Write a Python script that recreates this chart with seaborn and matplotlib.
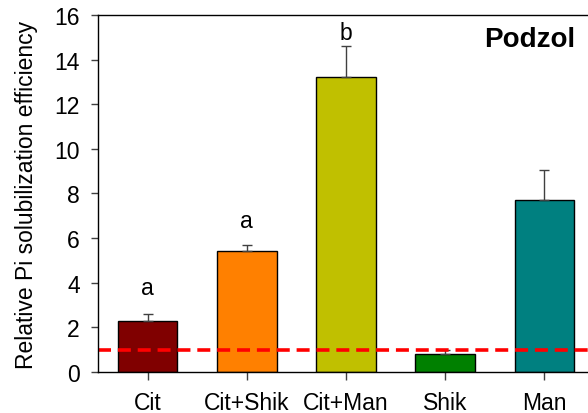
import pandas as pd
import seaborn as sns
import matplotlib.pyplot as plt

treatments = ['Cit', 'Cit+Shik', 'Cit+Man', 'Shik', 'Man']
efficiency = [2.3, 5.41, 13.23, 0.82, 7.73]
std_err = [0.31, 0.3, 1.36, 0.15, 1.31]
letters = ['a', 'a', 'b', '', '']
letter_y = [3.8, 6.8, 15.2, None, None]
bar_colors = ['#800000', '#FF8000', '#C0C000', '#008000', '#008080']

df = pd.DataFrame({'Treatment': treatments, 'Efficiency': efficiency})

sns.set_style('white')
plt.rcParams['font.family'] = ['Liberation Sans', 'DejaVu Sans']
plt.rcParams['text.color'] = 'black'
plt.rcParams['axes.labelcolor'] = 'black'
plt.rcParams['xtick.color'] = 'black'
plt.rcParams['ytick.color'] = 'black'

fig = plt.figure(figsize=(5.88, 4.14), dpi=100)
ax = fig.add_axes([0.1667, 0.099, 0.8333, 0.8624])

sns.barplot(data=df, x='Treatment', y='Efficiency', hue='Treatment',
            palette=bar_colors, saturation=1, width=0.6, edgecolor='black',
            linewidth=1, legend=False, ax=ax)

# upper error bars only
ax.errorbar(range(len(treatments)), efficiency,
            yerr=[[0] * len(std_err), std_err], fmt='none',
            ecolor='#404040', elinewidth=1, capsize=3.6, capthick=1)

for i, lab in enumerate(letters):
    if lab:
        ax.text(i, letter_y[i], lab, ha='center', va='center', fontsize=16.5)

ax.axhline(1.0, color='#FF0000', linestyle=(0, (3.6, 1.9)), linewidth=2.6)

ax.text(0.973, 0.933, 'Podzol', transform=ax.transAxes, ha='right',
        va='center', fontsize=20, fontweight='bold')

ax.set_xlim(-0.5, 4.44)
ax.set_ylim(0, 16)
ax.set_yticks(range(0, 17, 2))
ax.set_xlabel('')
ax.set_ylabel('Relative Pi solubilization efficiency', fontsize=16.5,
              labelpad=12)

for side in ['left', 'bottom', 'top']:
    ax.spines[side].set_visible(True)
    ax.spines[side].set_color('black')
    ax.spines[side].set_linewidth(1)
ax.spines['right'].set_visible(False)

ax.tick_params(axis='y', direction='out', length=5, width=1, pad=8,
               labelsize=16.5, left=True, color='#404040')
ax.tick_params(axis='x', direction='out', length=6, width=1, pad=8,
               labelsize=16.5, bottom=True, color='#404040')

fig.savefig('out.png', dpi=100)
